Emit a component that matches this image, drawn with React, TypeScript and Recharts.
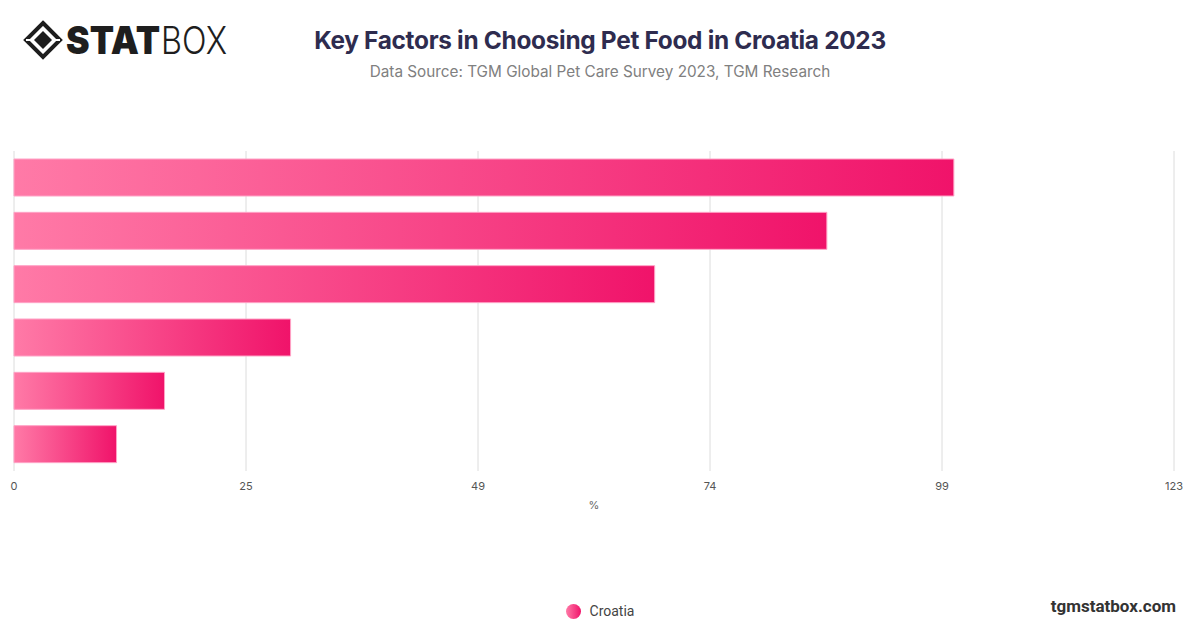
import { BarChart, Bar, XAxis, YAxis, CartesianGrid } from 'recharts'

// category names are not printed on the reference chart, so the y axis stays blank
const factors = ['Factor 1', 'Factor 2', 'Factor 3', 'Factor 4', 'Factor 5', 'Factor 6']
const croatia = [99.9, 86.4, 68.1, 29.4, 16.0, 10.9]
const axisMax = 123.3
const tickValues = [0, 24.66, 49.32, 73.98, 98.64, 123.3]

const chartData = factors.map((factor, i) => ({ factor, Croatia: croatia[i] }))

function Logo() {
  return (
    <svg width={230} height={60} style={{ position: 'absolute', left: 24, top: 10, overflow: 'visible' }}>
      <g transform="translate(19,30)">
        <polygon points="0,-17 17,0 0,17 -17,0" fill="none" stroke="#1e1e1e" strokeWidth={4} />
        <polygon points="0,-9 9,0 0,9 -9,0" fill="#1e1e1e" />
        <line x1={-17} y1={0} x2={-9} y2={0} stroke="#fff" strokeWidth={2} />
        <line x1={17} y1={0} x2={9} y2={0} stroke="#fff" strokeWidth={2} />
      </g>
      <text x={42} y={44} fontFamily="Inter, sans-serif" fontWeight={900} fontSize={38} fill="#1e1e1e" textLength={94} lengthAdjust="spacingAndGlyphs">
        STAT
      </text>
      <text x={137} y={44} fontFamily="Inter, sans-serif" fontWeight={300} fontSize={38} fill="#1e1e1e" textLength={66} lengthAdjust="spacingAndGlyphs">
        BOX
      </text>
    </svg>
  )
}

function ChartLegend() {
  return (
    <div
      style={{
        position: 'absolute',
        top: 603,
        left: 0,
        width: 1200,
        display: 'flex',
        alignItems: 'center',
        justifyContent: 'center',
        gap: 9,
      }}
    >
      <svg width={15} height={15}>
        <defs>
          <linearGradient id="legendFill" x1="0" y1="0" x2="1" y2="0">
            <stop offset="0%" stopColor="#ff7aa7" />
            <stop offset="100%" stopColor="#f0136a" />
          </linearGradient>
        </defs>
        <circle cx={7.5} cy={7.5} r={7.5} fill="url(#legendFill)" />
      </svg>
      <span style={{ fontFamily: 'Roboto, sans-serif', fontSize: 14, color: '#444' }}>Croatia</span>
    </div>
  )
}

export default function App() {
  return (
    <div
      style={{
        position: 'absolute',
        left: 0,
        top: 0,
        width: 1200,
        height: 628,
        background: '#fff',
        fontFamily: 'Inter, sans-serif',
      }}
    >
      <Logo />
      <div
        style={{
          position: 'absolute',
          top: 25,
          left: 0,
          width: 1200,
          textAlign: 'center',
          fontSize: 24.4,
          fontWeight: 700,
          color: '#2e2c4f',
          letterSpacing: -0.3,
        }}
      >
        Key Factors in Choosing Pet Food in Croatia 2023
      </div>
      <div
        style={{
          position: 'absolute',
          top: 62,
          left: 0,
          width: 1200,
          textAlign: 'center',
          fontSize: 15.3,
          color: '#808080',
        }}
      >
        Data Source: TGM Global Pet Care Survey 2023, TGM Research
      </div>

      <div style={{ position: 'absolute', left: 0, top: 0 }}>
        <BarChart
          width={1200}
          height={628}
          data={chartData}
          layout="vertical"
          margin={{ top: 151, right: 26, left: 14, bottom: 114 }}
          barSize={37}
        >
          <defs>
            <linearGradient id="barFill" x1="0" y1="0" x2="1" y2="0">
              <stop offset="0%" stopColor="#ff7aa7" />
              <stop offset="100%" stopColor="#f0136a" />
            </linearGradient>
          </defs>
          <CartesianGrid horizontal={false} stroke="#dcdcdc" />
          <XAxis
            type="number"
            domain={[0, axisMax]}
            ticks={tickValues}
            tickFormatter={(v: number) => String(Math.round(v))}
            axisLine={false}
            tickLine={false}
            tickMargin={5}
            height={43}
            tick={{ fill: '#555', fontSize: 11, fontFamily: 'Inter, sans-serif' }}
            label={{ value: '%', position: 'insideBottom', offset: 5, fill: '#666', fontSize: 11 }}
          />
          <YAxis
            type="category"
            dataKey="factor"
            width={0}
            tick={false}
            tickLine={false}
            axisLine={{ stroke: '#333' }}
          />
          <Bar
            dataKey="Croatia"
            fill="url(#barFill)"
            stroke="#ffa3c6"
            strokeWidth={1}
            isAnimationActive={false}
          />
        </BarChart>
      </div>

      <ChartLegend />

      <div
        style={{
          position: 'absolute',
          right: 24,
          top: 596,
          fontFamily: 'Roboto, sans-serif',
          fontWeight: 700,
          fontSize: 17,
          color: '#333',
        }}
      >
        tgmstatbox.com
      </div>
    </div>
  )
}
